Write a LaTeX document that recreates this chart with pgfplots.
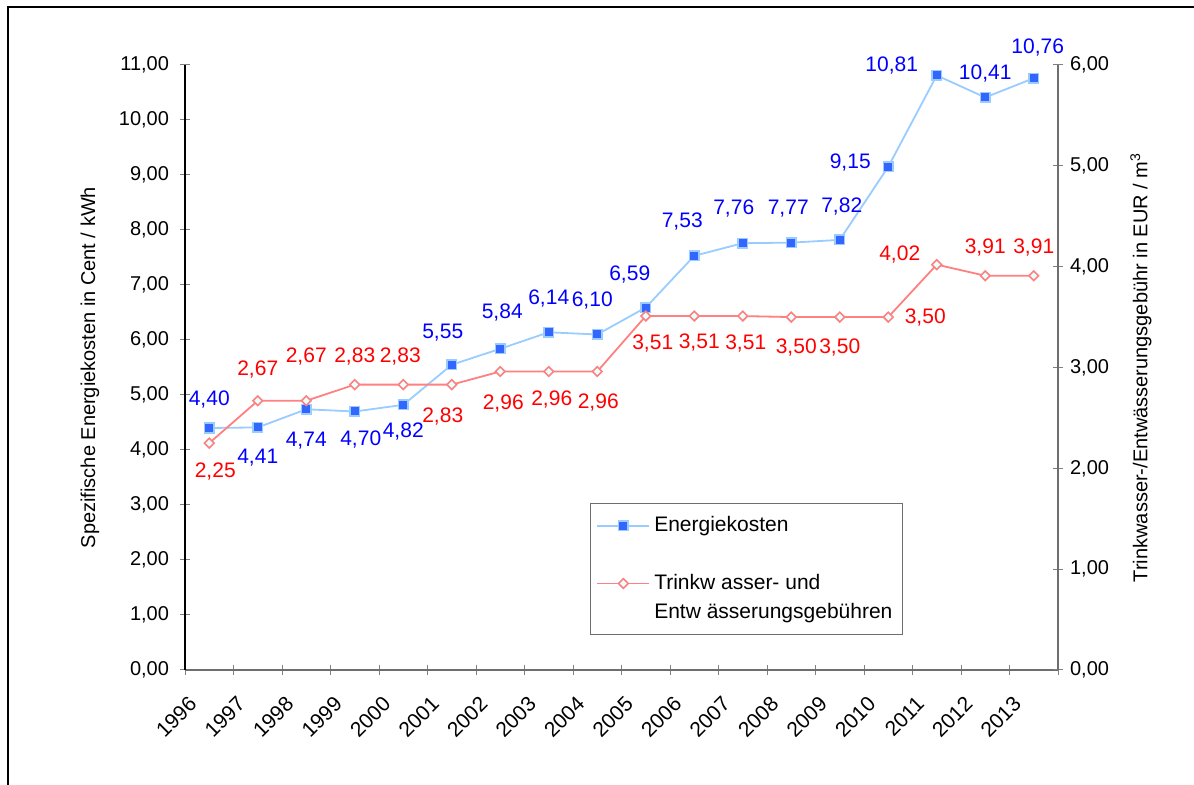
\documentclass[border=0pt]{standalone}
\usepackage{fontspec}
\setmainfont{Liberation Sans}
\usepackage{pgfplots}
\usepackage{pgfplotstable}
\pgfplotsset{compat=1.18}
\definecolor{eline}{RGB}{153,204,255}
\definecolor{emark}{RGB}{51,102,255}
\definecolor{elabel}{RGB}{0,0,255}
\definecolor{wline}{RGB}{255,128,128}
\definecolor{wfill}{RGB}{230,255,255}
\definecolor{wlabel}{RGB}{255,0,0}
\definecolor{axgray}{RGB}{110,110,110}

\pgfplotstableread{
x y lbl dx dy
0.5 4.40 4,40 0 14
1.5 4.41 4,41 0 -15
2.5 4.74 4,74 0 -15.5
3.5 4.70 4,70 3 -14
4.5 4.82 4,82 0 -13.5
5.5 5.55 5,55 -4.5 16
6.5 5.84 5,84 1 18
7.5 6.14 6,14 0 17
8.5 6.10 6,10 -2.5 17
9.5 6.59 6,59 -8 16.5
10.5 7.53 7,53 -6 17
11.5 7.76 7,76 -4.5 17.5
12.5 7.77 7,77 -1.5 17
13.5 7.82 7,82 1 16.5
14.5 9.15 9,15 -19 2
15.5 10.81 10,81 -22.5 5
16.5 10.41 10,41 0 12
17.5 10.76 10,76 2 15.5
}\energy

\pgfplotstableread{
x y lbl dx dy
0.5 2.25 2,25 3 -14
1.5 2.67 2,67 0 15.5
2.5 2.67 2,67 0 22
3.5 2.83 2,83 0 14
4.5 2.83 2,83 -1.5 14
5.5 2.83 2,83 -4.5 -16
6.5 2.96 2,96 1.5 -16
7.5 2.96 2,96 1.5 -14
8.5 2.96 2,96 0.5 -15.5
9.5 3.51 3,51 3.5 -13.5
10.5 3.51 3,51 2.5 -13
11.5 3.51 3,51 1.5 -13.5
12.5 3.50 3,50 2.5 -15
13.5 3.50 3,50 0 -15
14.5 3.50 3,50 18.5 0
15.5 4.02 4,02 -18.5 5
16.5 3.91 3,91 0 14
17.5 3.91 3,91 0 14
}\water

\pgfplotsset{
  common/.style={
    at={(92.5pt,57.5pt)}, anchor=south west,
    scale only axis, width=436.5pt, height=302.5pt,
    xmin=0, xmax=18, ymin=0,
    clip=false,
    tick align=center, major tick length=5pt,
    tick style={line width=0.5pt},
    /pgf/number format/assume math mode=true,
    tick label style={font=\fontsize{10}{12}\selectfont},
    yticklabel style={/pgf/number format/fixed,/pgf/number format/fixed zerofill,
      /pgf/number format/precision=2,/pgf/number format/use comma},
    label style={font=\fontsize{10}{12}\selectfont},
  },
  lbls/.style={
    nodes near coords, point meta=explicit symbolic,
    visualization depends on={\thisrow{dx}\as\ddx},
    visualization depends on={\thisrow{dy}\as\ddy},
    nodes near coords style={anchor=center, xshift=\ddx, yshift=\ddy,
      font=\fontsize{10.5}{12}\selectfont, text=#1, inner sep=0pt},
  },
  estyle/.style={color=eline, line width=0.9pt, mark=square*,
    mark size=2.4pt, mark options={fill=emark, draw=eline, line width=0.8pt}},
  wstyle/.style={color=wline, line width=0.9pt, mark=square*,
    mark size=1.7pt, mark options={rotate=45, fill=wfill, draw=wline, line width=0.8pt}},
}

\begin{document}
\begin{tikzpicture}
\useasboundingbox (0pt,0pt) rectangle (597pt,392.5pt);
\begin{axis}[common,
  ymax=11,
  axis x line*=bottom, axis y line*=left,
  x axis line style={draw=axgray, line width=0.8pt},
  y axis line style={draw=black, line width=0.8pt},
  xtick={0,...,18},
  xticklabels={1996,1997,1998,1999,2000,2001,2002,2003,2004,2005,2006,2007,2008,2009,2010,2011,2012,2013,{}},
  xticklabel style={xshift=1.3pt, yshift=-9.9pt, rotate=45, anchor=north east, inner sep=0pt,
    font=\fontsize{10.5}{12}\selectfont},
  ytick={0,...,11},
  yticklabel style={xshift=-2pt},
  ylabel={Spezifische Energiekosten in Cent / kWh},
  every axis y label/.style={at={(axis description cs:-0.1088,0.5)}, rotate=90, anchor=center},
]
\addplot[estyle, lbls=elabel] table[x=x, y=y, meta=lbl] {\energy};
\end{axis}
\begin{axis}[common,
  ymax=6,
  axis x line=none, axis y line*=right,
  y axis line style={draw=axgray, line width=0.8pt},
  ytick={0,...,6},
  ylabel={Trinkwasser-/Entwässerungsgebühr in EUR / m\textsuperscript{3}},
  every axis y label/.style={at={(axis description cs:1.095,0.5)}, rotate=90, anchor=center},
  legend style={at={(0.4639,0.276)}, anchor=north west, draw=axgray, line width=0.5pt,
    fill=white, font=\fontsize{10.5}{15}\selectfont, row sep=2.55pt,
    inner xsep=3pt, inner ysep=5pt, nodes={inner ysep=1.5pt}},
  legend cell align=left,
  legend image code/.code={
    \draw[#1] (0pt,0pt) -- (26pt,0pt);
    \draw[#1] plot coordinates {(13pt,0pt)};
  },
]
\addlegendimage{estyle}
\addlegendentry{Energiekosten}
\addlegendimage{empty legend}
\addlegendentry{\phantom{Eg}}
\addplot[wstyle, lbls=wlabel] table[x=x, y=y, meta=lbl] {\water};
\addlegendentry{Trinkw asser- und}
\addlegendimage{empty legend}
\addlegendentry{Entw ässerungsgebühren}
\end{axis}
\draw[line width=1pt] (4pt,0pt) -- (4pt,389pt) -- (597pt,389pt);
\end{tikzpicture}
\end{document}
